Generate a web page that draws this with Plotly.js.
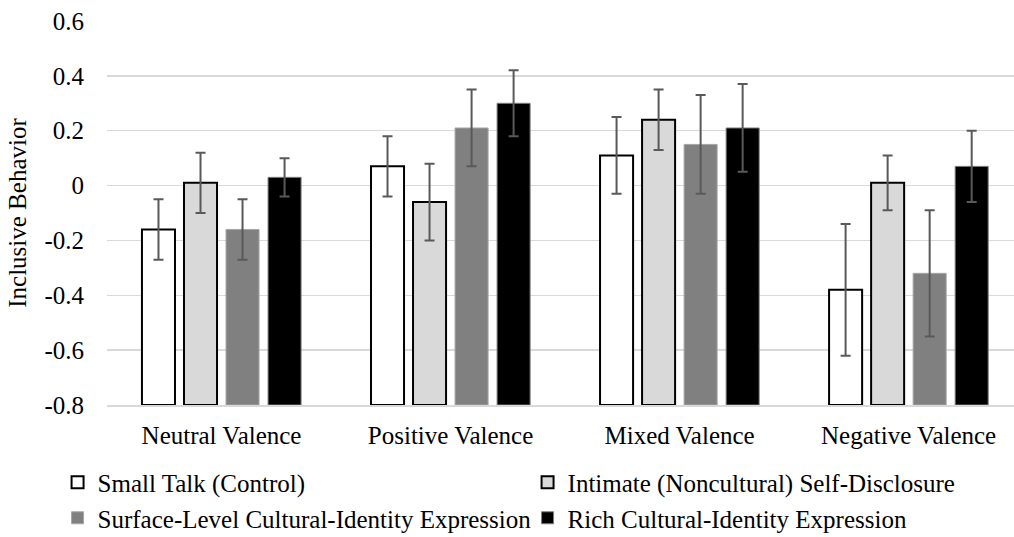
<!DOCTYPE html>
<html>
<head>
<meta charset="utf-8">
<script src="https://cdn.plot.ly/plotly-3.0.1.min.js"></script>
<style>html,body{margin:0;padding:0;background:#fff;}#chart{width:1014px;height:537px;}</style>
</head>
<body>
<div id="chart"></div>
<script>
// Categories and series
const categories = ["Neutral Valence", "Positive Valence", "Mixed Valence", "Negative Valence"];
const seriesNames = [
  "Small Talk (Control)",
  "Intimate (Noncultural) Self-Disclosure",
  "Surface-Level Cultural-Identity Expression",
  "Rich Cultural-Identity Expression"
];
const smallTalk   = [-0.16, 0.07, 0.11, -0.38];
const intimate    = [ 0.01, -0.06, 0.24, 0.01];
const surface     = [-0.16, 0.21, 0.15, -0.32];
const rich        = [ 0.03, 0.30, 0.21, 0.07];
// error bar half-lengths
const smallTalkErr = [0.11, 0.11, 0.14, 0.24];
const intimateErr  = [0.11, 0.14, 0.11, 0.10];
const surfaceErr   = [0.11, 0.14, 0.18, 0.23];
const richErr      = [0.07, 0.12, 0.16, 0.13];
const yTickVals = [-0.8, -0.6, -0.4, -0.2, 0, 0.2, 0.4, 0.6];
const yTickText = ["-0.8", "-0.6", "-0.4", "-0.2", "0", "0.2", "0.4", "0.6"];
const axisBase = -0.8;

const styles = [
  {fill: "#ffffff", line: "#000000", lw: 2},
  {fill: "#d9d9d9", line: "#000000", lw: 2},
  {fill: "#808080", line: "#a6a6a6", lw: 1},
  {fill: "#000000", line: "#7f7f7f", lw: 1}
];
const values = [smallTalk, intimate, surface, rich];
const errs = [smallTalkErr, intimateErr, surfaceErr, richErr];

const font = '"Liberation Serif", "Times New Roman", serif';

const traces = values.map((vals, i) => ({
  type: "bar",
  name: seriesNames[i],
  x: categories,
  y: vals.map(v => v - axisBase),
  base: axisBase,
  marker: {color: styles[i].fill, line: {color: styles[i].line, width: styles[i].lw}},
  error_y: {type: "data", array: errs[i], visible: true, color: "#595959", thickness: 2, width: 5},
  hoverinfo: "skip"
}));

const layout = {
  width: 1014,
  height: 537,
  margin: {l: 107, r: 0, t: 21, b: 132, autoexpand: false},
  paper_bgcolor: "#ffffff",
  plot_bgcolor: "#ffffff",
  font: {family: font, size: 25, color: "#000000"},
  barmode: "group",
  bargap: 0.266,
  bargroupgap: 0.214,
  showlegend: true,
  legend: {
    orientation: "h",
    x: -0.0545,
    xanchor: "left",
    y: -0.142,
    yanchor: "top",
    entrywidth: 425,
    entrywidthmode: "pixels",
    traceorder: "normal",
    font: {family: font, size: 25, color: "#000000"},
    bgcolor: "rgba(0,0,0,0)"
  },
  xaxis: {
    type: "category",
    range: [-0.5, 3.46],
    showgrid: false,
    zeroline: false,
    showline: true,
    linecolor: "#d9d9d9",
    linewidth: 1.5,
    ticks: "outside",
    ticklen: 7,
    tickcolor: "rgba(0,0,0,0)",
    tickfont: {family: font, size: 25, color: "#000000"},
    fixedrange: true
  },
  yaxis: {
    range: [-0.8, 0.6],
    tickvals: yTickVals,
    ticktext: yTickText,
    showgrid: true,
    gridcolor: "#d9d9d9",
    gridwidth: 1.5,
    zeroline: false,
    showline: false,
    ticks: "outside",
    ticklen: 17,
    tickcolor: "rgba(0,0,0,0)",
    tickfont: {family: font, size: 25, color: "#000000"},
    title: {text: "Inclusive Behavior", font: {family: font, size: 25, color: "#000000"}, standoff: 10},
    fixedrange: true
  }
};

Plotly.newPlot("chart", traces, layout, {displayModeBar: false, staticPlot: true});
</script>
</body>
</html>
